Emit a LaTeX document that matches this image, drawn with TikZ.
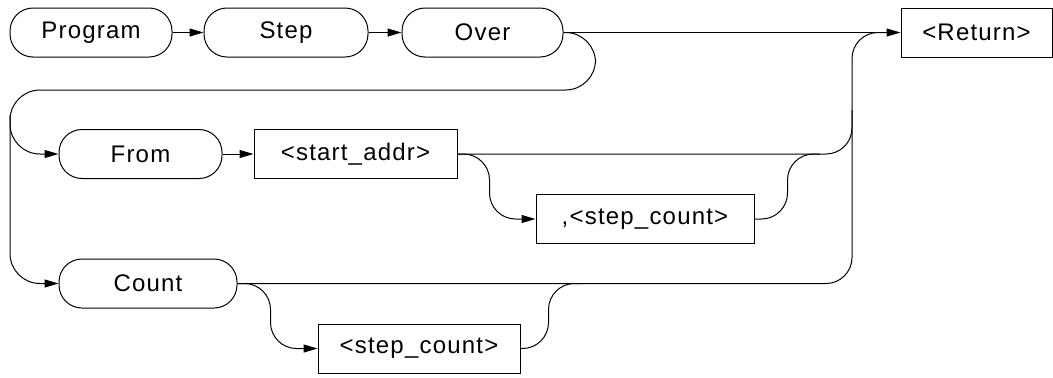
\documentclass[tikz,border=0pt]{standalone}
\usepackage{fontspec}
\setmainfont{Liberation Sans}[LetterSpace=5]
\usetikzlibrary{positioning,arrows.meta}

\begin{document}
\begin{tikzpicture}[x=0.5pt, y=-0.5pt, node distance=15.5pt, line width=0.5pt,
    >={Triangle[length=7pt,width=4pt]},
    pill/.style={draw, rounded corners=11.5pt, minimum height=24.5pt, inner sep=0pt, font=\fontsize{12}{14}\selectfont},
    box/.style={draw, minimum height=24.5pt, inner sep=0pt, font=\fontsize{12}{14}\selectfont},
    flow/.style={rounded corners=13pt}]
    \useasboundingbox (0,0) rectangle (1053,377);

    \node (prog)    [pill, minimum width=81pt] at (91,32.5) {Program};
    \node (step)    [pill, minimum width=82pt, right=of prog] {Step};
    \node (over)    [pill, minimum width=80.5pt, right=16.5pt of step] {Over};
    \node (ret)     [box, minimum width=75.5pt] at (976.5,32.5) {<Return>};
    \node (from)    [pill, minimum width=81.5pt] at (140.5,154) {From};
    \node (start)   [box, minimum width=101.5pt, right=of from] {<start\_addr>};
    \node (cstep)   [box, minimum width=109pt] at (645,219) {,<step\_count>};
    \node (count)   [pill, minimum width=89pt] at (148,283.5) {Count};
    \node (stepcnt) [box, minimum width=101pt] at (419,348.5) {<step\_count>};

    % junctions on the buses
    \coordinate (ltop)   at (10,115);
    \coordinate (jfrom)  at (820,154);
    \coordinate (jcount) at (582,283.5);
    \coordinate (jret)   at (885,32.5);

    \draw[->] (prog) -- (step);
    \draw[->] (step) -- (over);
    \draw[->] (over) -- (ret);
    \draw[->] (from) -- (start);

    % loop back from Over to the left bus
    \draw[flow,rounded corners=15pt,->] (over.east) -- ++(32,0) -- ++(0,57.5) -- (10,90) -- (10,283.5) -- (count.west);
    \draw[flow,rounded corners=15pt,->] (ltop) |- (from.west);

    % From branch
    \draw[flow] (start.east) -| (852,110);
    \draw[flow,->] (start.east) -- ++(32,0) |- (cstep.west);
    \draw[flow] (cstep.east) -- ++(33,0) |- (jfrom);

    % Count branch
    \draw[flow] (count.east) -| (852,32.5) -- (jret);
    \draw[flow,->] (count.east) -- ++(33,0) |- (stepcnt.west);
    \draw[flow] (stepcnt.east) -- ++(28,0) |- (jcount);
\end{tikzpicture}
\end{document}
